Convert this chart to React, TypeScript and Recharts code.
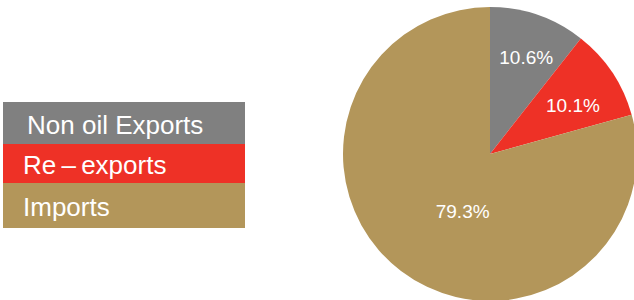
import React from "react";
import { PieChart, Pie, Cell, Legend } from "recharts";

const WIDTH = 634;
const HEIGHT = 300;
const FONT = "'Liberation Sans', Arial, sans-serif";

const categories = ["Non oil Exports", "Re \u2013 exports", "Imports"];
const shares = [10.6, 10.1, 79.3];
const colors = ["#808080", "#ee3126", "#b3965a"];

const data = categories.map((name, i) => ({ name, value: shares[i] }));

// label placement tweaks (radius, angle shift) per slice
const labelRadius = [103, 96, 64];
const labelShift = [-1.5, -3.5, 12];
const legendRows = [42, 39, 45];

const RADIAN = Math.PI / 180;

const renderLabel = (props: any) => {
  const { cx, cy, midAngle, index, value } = props;
  const a = (midAngle + labelShift[index]) * RADIAN;
  const r = labelRadius[index];
  const x = cx + r * Math.cos(a);
  const y = cy - r * Math.sin(a);
  return (
    <text x={x} y={y} fill="#ffffff" textAnchor="middle" dominantBaseline="central" style={{ fontSize: 19, fontFamily: FONT }}>
      {value.toFixed(1)}%
    </text>
  );
};

const renderLegend = () => (
  <div style={{ width: 242 }}>
    {data.map((d, i) => (
      <div
        key={d.name}
        style={{
          background: colors[i],
          height: legendRows[i],
          lineHeight: legendRows[i] + 4 + "px",
          color: "#ffffff",
          fontFamily: FONT,
          fontSize: 26,
          paddingLeft: i === 0 ? 24 : 20,
          wordSpacing: i === 1 ? -2 : 0,
          boxSizing: "border-box",
          whiteSpace: "nowrap",
        }}
      >
        {d.name}
      </div>
    ))}
  </div>
);

export default function App() {
  return (
    <div style={{ position: "absolute", left: 0, top: 0, width: WIDTH, height: HEIGHT, background: "#ffffff", overflow: "hidden" }}>
      <PieChart width={WIDTH + 20} height={HEIGHT + 20} margin={{ top: 0, right: 0, bottom: 0, left: 0 }}>
        <Pie
          data={data}
          dataKey="value"
          nameKey="name"
          cx={490}
          cy={154}
          outerRadius={147}
          startAngle={90}
          endAngle={-270}
          stroke="none"
          label={renderLabel}
          labelLine={false}
          isAnimationActive={false}
        >
          {data.map((d, i) => (
            <Cell key={d.name} fill={colors[i]} />
          ))}
        </Pie>
        <Legend content={renderLegend} wrapperStyle={{ left: 3, top: 102, width: 242, bottom: "auto" }} />
      </PieChart>
    </div>
  );
}
